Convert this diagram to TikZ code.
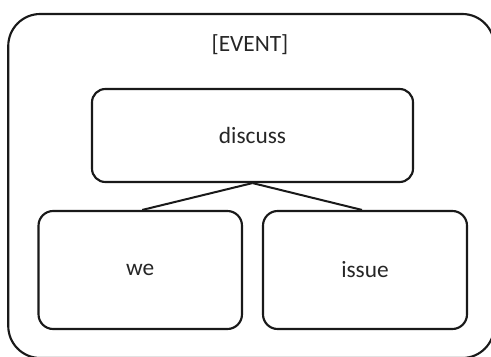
\documentclass[tikz,border=0pt]{standalone}
\usepackage{fontspec}
\setmainfont{Carlito}
\begin{document}
\begin{tikzpicture}[x=0.75pt,y=-0.75pt,
  box/.style={draw=black!90,line width=1.6pt,rounded corners=#1,inner sep=0pt,
    font=\fontsize{17.5pt}{20pt}\selectfont,text=black!85},
  box/.default=10pt,
  lbl/.style={font=\fontsize{17.5pt}{20pt}\selectfont,text=black!85},
  link/.style={draw=black!90,line width=1.5pt}]
\useasboundingbox (0,0) rectangle (491,356);
\clip (0,0) rectangle (491,356);
\node[box=24pt,minimum width=364.5pt,minimum height=258pt] (frame) at (251.25,186) {};
\node[lbl] (event) at (250,45) {[EVENT]};
\node[box=10pt,minimum width=240.75pt,minimum height=69.75pt] (discuss) at (252.5,135.5) {discuss};
\node[box=11pt,minimum width=152.6pt,minimum height=88.5pt] (we) at (140.25,270) {we};
\node[box=11pt,minimum width=153pt,minimum height=88.5pt] (issue) at (365,270) {issue};
\draw[link] (discuss.south) -- ([xshift=1.5pt]we.north);
\draw[link] (discuss.south) -- ([xshift=-2.25pt]issue.north);
\end{tikzpicture}
\end{document}
